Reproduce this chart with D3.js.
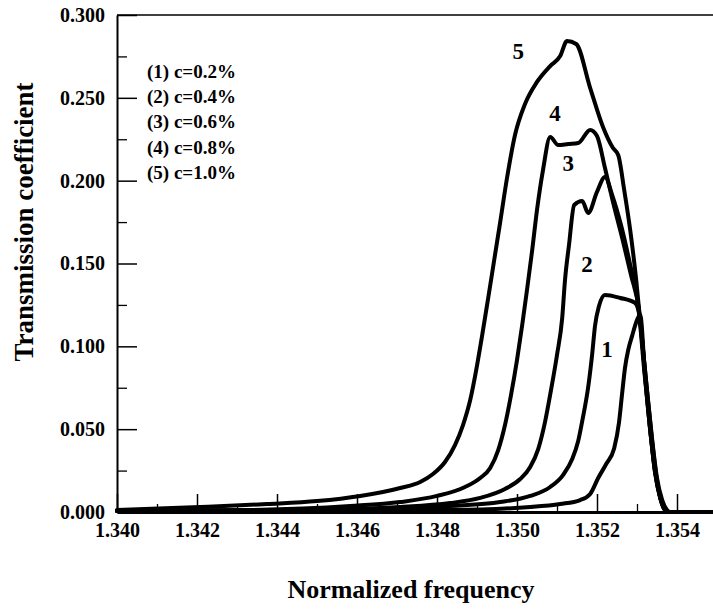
<!DOCTYPE html>
<html>
<head>
<meta charset="utf-8">
<script src="https://cdn.jsdelivr.net/npm/d3@7/dist/d3.min.js"></script>
<style>
  html, body { margin: 0; padding: 0; background: #fff; }
  svg { display: block; }
  text { font-family: "Liberation Serif", "Times New Roman", serif; font-weight: bold; fill: #000; }
</style>
</head>
<body>
<svg id="chart" width="713" height="609"></svg>
<script>
// Transmission spectra for five concentrations: [normalized frequency, transmission coefficient]
const curve1 = [[1.34000,0.0006],[1.34833,0.0012],[1.35033,0.0030],[1.35108,0.0048],[1.35158,0.0072],[1.35183,0.0109],[1.35203,0.0205],[1.35223,0.0290],[1.35243,0.0385],[1.35255,0.0540],[1.35263,0.0720],[1.35270,0.0870],[1.35278,0.0978],[1.35288,0.1065],[1.35303,0.1175],[1.35308,0.1189],[1.35320,0.0827],[1.35333,0.0495],[1.35345,0.0254],[1.35358,0.0091],[1.35370,0.0012],[1.35378,0],[1.35490,0]];
const curve2 = [[1.34000,0.0006],[1.34583,0.0012],[1.34833,0.0036],[1.34958,0.0060],[1.35033,0.0097],[1.35083,0.0151],[1.35115,0.0223],[1.35138,0.0320],[1.35153,0.0429],[1.35165,0.0573],[1.35178,0.0755],[1.35188,0.0954],[1.35195,0.1123],[1.35205,0.1243],[1.35220,0.1310],[1.35258,0.1292],[1.35295,0.1262],[1.35308,0.1159],[1.35320,0.0827],[1.35333,0.0495],[1.35345,0.0241],[1.35358,0.0085],[1.35370,0.0012],[1.35378,0],[1.35490,0]];
const curve3 = [[1.34000,0.0006],[1.34458,0.0012],[1.34708,0.0030],[1.34833,0.0054],[1.34908,0.0085],[1.34970,0.0139],[1.35008,0.0199],[1.35033,0.0272],[1.35053,0.0380],[1.35070,0.0543],[1.35085,0.0736],[1.35100,0.0948],[1.35113,0.1171],[1.35120,0.1400],[1.35130,0.1612],[1.35143,0.1853],[1.35163,0.1877],[1.35178,0.1805],[1.35200,0.1932],[1.35220,0.2022],[1.35238,0.1913],[1.35260,0.1732],[1.35283,0.1491],[1.35303,0.1249],[1.35318,0.0857],[1.35333,0.0495],[1.35345,0.0241],[1.35358,0.0085],[1.35370,0.0012],[1.35378,0],[1.35490,0]];
const curve4 = [[1.34000,0.0006],[1.34333,0.0012],[1.34583,0.0036],[1.34708,0.0060],[1.34800,0.0097],[1.34870,0.0151],[1.34908,0.0205],[1.34933,0.0266],[1.34953,0.0374],[1.34970,0.0525],[1.34985,0.0706],[1.35000,0.0917],[1.35013,0.1129],[1.35025,0.1340],[1.35038,0.1581],[1.35050,0.1823],[1.35065,0.2064],[1.35083,0.2264],[1.35103,0.2215],[1.35128,0.2221],[1.35153,0.2227],[1.35183,0.2306],[1.35200,0.2270],[1.35220,0.2076],[1.35240,0.1871],[1.35263,0.1654],[1.35285,0.1431],[1.35305,0.1219],[1.35320,0.0857],[1.35335,0.0495],[1.35348,0.0223],[1.35360,0.0072],[1.35373,0.0006],[1.35380,0],[1.35490,0]];
const curve5 = [[1.34000,0.0012],[1.34208,0.0030],[1.34375,0.0048],[1.34500,0.0066],[1.34608,0.0097],[1.34708,0.0145],[1.34758,0.0181],[1.34790,0.0229],[1.34820,0.0302],[1.34845,0.0404],[1.34865,0.0525],[1.34883,0.0676],[1.34898,0.0857],[1.34913,0.1068],[1.34928,0.1292],[1.34943,0.1521],[1.34958,0.1750],[1.34975,0.2016],[1.34995,0.2276],[1.35020,0.2463],[1.35050,0.2596],[1.35083,0.2692],[1.35108,0.2752],[1.35125,0.2843],[1.35148,0.2825],[1.35183,0.2559],[1.35215,0.2324],[1.35240,0.2197],[1.35253,0.2155],[1.35268,0.1944],[1.35283,0.1702],[1.35298,0.1400],[1.35310,0.1099],[1.35325,0.0736],[1.35338,0.0435],[1.35350,0.0205],[1.35363,0.0072],[1.35375,0.0012],[1.35383,0],[1.35490,0]];

const curves = [curve1, curve2, curve3, curve4, curve5];
const curveNames = ["1", "2", "3", "4", "5"];
// where each curve number is written: [frequency, transmission]
const curveNamePos = [[1.35225,0.0935],[1.35175,0.1449],[1.35128,0.2058],[1.35095,0.2360],[1.35003,0.2734]];
const concentrations = ["0.2%", "0.4%", "0.6%", "0.8%", "1.0%"];

const xTicks = [1.340, 1.342, 1.344, 1.346, 1.348, 1.350, 1.352, 1.354];
const xMinor = [1.341, 1.343, 1.345, 1.347, 1.349, 1.351, 1.353];
const yTicks = [0.000, 0.050, 0.100, 0.150, 0.200, 0.250, 0.300];
const yMinor = [0.025, 0.075, 0.125, 0.175, 0.225, 0.275];

const svg = d3.select("#chart");
const x = d3.scaleLinear().domain([1.340, 1.3549]).range([117, 713]);
const y = d3.scaleLinear().domain([0, 0.300]).range([512, 15]);

// frame: top border line
svg.append("line")
  .attr("x1", x(1.340)).attr("x2", x(1.3549))
  .attr("y1", y(0.300)).attr("y2", y(0.300))
  .attr("stroke", "#000").attr("stroke-width", 1.6);

// y axis: major ticks with labels, minor ticks, all pointing inward
const yAxis = svg.append("g").attr("transform", `translate(${x(1.340)},0)`)
  .call(d3.axisLeft(y).tickValues(yTicks).tickSizeInner(-20).tickSizeOuter(0)
    .tickPadding(12).tickFormat(d3.format(".3f")));
yAxis.select(".domain").attr("stroke-width", 2);
yAxis.selectAll(".tick line").attr("stroke-width", 1.5);
yAxis.selectAll(".tick text").style("font-size", "20px").style("font-family", null);

const yAxisMinor = svg.append("g").attr("transform", `translate(${x(1.340)},0)`)
  .call(d3.axisLeft(y).tickValues(yMinor).tickSizeInner(-10).tickSizeOuter(0).tickFormat(""));
yAxisMinor.select(".domain").remove();
yAxisMinor.selectAll(".tick line").attr("stroke-width", 1.3);

// x axis: ticks pointing upward into the plot
const xAxis = svg.append("g").attr("transform", `translate(0,${y(0)})`)
  .call(d3.axisBottom(x).tickValues(xTicks).tickSizeInner(-18).tickSizeOuter(0)
    .tickPadding(11).tickFormat(d3.format(".3f")));
xAxis.select(".domain").attr("stroke-width", 3);
xAxis.selectAll(".tick line").attr("stroke-width", 1.5);
xAxis.selectAll(".tick text").style("font-size", "20px").style("font-family", null);

const xAxisMinor = svg.append("g").attr("transform", `translate(0,${y(0)})`)
  .call(d3.axisBottom(x).tickValues(xMinor).tickSizeInner(-8).tickSizeOuter(0).tickFormat(""));
xAxisMinor.select(".domain").remove();
xAxisMinor.selectAll(".tick line").attr("stroke-width", 1.3);

// spectra
const line = d3.line()
  .x(d => x(d[0]))
  .y(d => y(d[1]))
  .curve(d3.curveMonotoneX);

svg.append("g").selectAll("path")
  .data(curves)
  .join("path")
  .attr("d", line)
  .attr("fill", "none")
  .attr("stroke", "#000")
  .attr("stroke-width", 4)
  .attr("stroke-linejoin", "round")
  .attr("stroke-linecap", "round");

// curve numbers
svg.append("g").selectAll("text")
  .data(curveNames)
  .join("text")
  .attr("x", (d, i) => x(curveNamePos[i][0]))
  .attr("y", (d, i) => y(curveNamePos[i][1]))
  .attr("text-anchor", "middle")
  .style("font-size", "23px")
  .text(d => d);

// legend
svg.append("g").selectAll("text")
  .data(concentrations)
  .join("text")
  .attr("x", 147)
  .attr("y", (d, i) => 78 + i * 25.2)
  .style("font-size", "19px")
  .text((d, i) => `(${i + 1}) c=${d}`);

// axis titles
svg.append("text")
  .attr("x", 411).attr("y", 598)
  .attr("text-anchor", "middle")
  .style("font-size", "26px")
  .text("Normalized frequency");

svg.append("text")
  .attr("transform", "translate(33,222) rotate(-90)")
  .attr("text-anchor", "middle")
  .style("font-size", "27px")
  .text("Transmission coefficient");
</script>
</body>
</html>
